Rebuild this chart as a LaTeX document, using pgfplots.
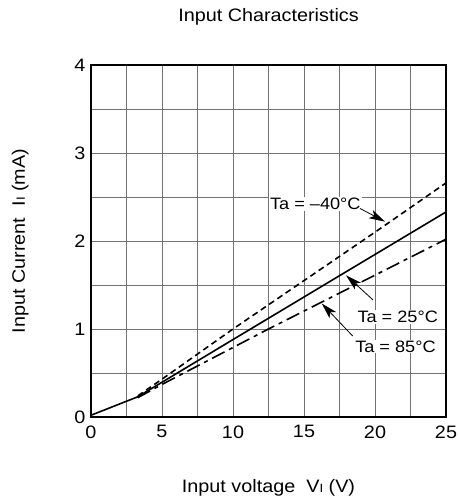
\documentclass[border=0pt]{standalone}
\usepackage{fontspec}
\setmainfont{Liberation Sans}[FakeStretch=1.1]
\usepackage{pgfplots}
\pgfplotsset{compat=1.18}
\usetikzlibrary{arrows.meta}
\tikzset{callout/.style={-{Stealth[length=16bp,width=9bp,inset=4bp]}, line width=0.8bp}}

\begin{document}
\begin{tikzpicture}[font=\fontsize{18bp}{21bp}\selectfont]
\begin{axis}[
    scale only axis,
    width=355bp, height=352bp,
    xmin=0, xmax=25, ymin=0, ymax=4,
    xtick={0,5,...,25}, ytick={0,1,...,4},
    minor xtick={2.5,7.5,...,22.5},
    minor ytick={0.5,1.5,2.5,3.5},
    grid=both,
    grid style={black!55, line width=0.9bp},
    major tick length=0pt, minor tick length=0pt,
    axis line style={line width=1.8bp},
    tick label style={font=\fontsize{18bp}{21bp}\selectfont},
    /pgf/number format/assume math mode=true,
    xticklabel style={yshift=-5bp},
    yticklabel style={xshift=-2bp},
    title={Input Characteristics},
    title style={at={(0.5,1)}, anchor=base, yshift=38bp},
    xlabel={Input voltage\ \ V{\fontsize{12bp}{12bp}\selectfont I} (V)},
    xlabel style={at={(0.5,0)}, anchor=base, yshift=-75bp},
    ylabel={Input Current\ \ I{\fontsize{12bp}{12bp}\selectfont I} (mA)},
    % rotated 90 degrees: yshift moves the label to the left
    ylabel style={at={(0,0.5)}, anchor=base, yshift=66bp},
]
% Ta = 25 C
\addplot[black, line width=1.6bp] coordinates {
    (0,0.02) (3.3,0.23) (10,0.88) (17.96,1.65) (25,2.33)
};
% Ta = -40 C
\addplot[black, line width=1.6bp, dash pattern=on 6bp off 4bp] coordinates {
    (3.3,0.24) (5,0.43) (10,1.0) (15,1.55) (20,2.1) (25,2.66)
};
% Ta = 85 C
\addplot[black, line width=1.6bp, dash pattern=on 14bp off 5bp on 4bp off 5bp] coordinates {
    (3.3,0.22) (5,0.37) (7.5,0.58) (10,0.79) (12.5,1.0) (25,2.02)
};

\begin{scope}[every node/.style={fill=white, inner sep=1bp,
        font=\fontsize{16.5bp}{19bp}\selectfont}]
\node at (axis cs:15.8,2.42) {Ta = –40°C};
\node at (axis cs:21.6,1.14) {Ta = 25°C};
\node at (axis cs:21.44,0.80) {Ta = 85°C};
\end{scope}
\draw[callout] (axis cs:18.94,2.37) -- (axis cs:20.7,2.22);
\draw[callout] (axis cs:19.86,1.33) -- (axis cs:17.96,1.61);
\draw[callout] (axis cs:18.43,0.92) -- (axis cs:16.25,1.29);
\end{axis}
\pgfresetboundingbox
\path ([shift={(-91bp,-85bp)}]current axis.south west)
    rectangle ([shift={(13bp,65bp)}]current axis.north east);
\end{tikzpicture}
\end{document}
